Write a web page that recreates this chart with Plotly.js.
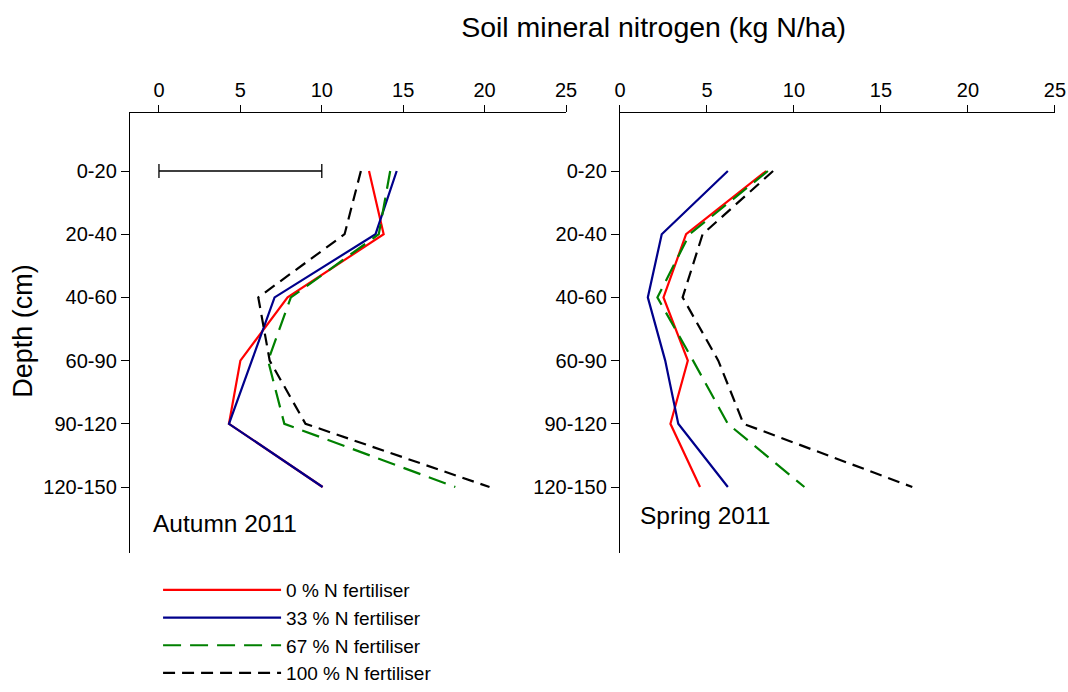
<!DOCTYPE html>
<html>
<head>
<meta charset="utf-8">
<script src="https://cdn.plot.ly/plotly-3.0.1.min.js"></script>
<style>
  html, body { margin: 0; padding: 0; background: #fff; }
  #chart { width: 1068px; height: 692px; }
</style>
</head>
<body>
<div id="chart"></div>
<script>
// depth layers (cm)
const depths = ['0-20', '20-40', '40-60', '60-90', '90-120', '120-150'];

// Autumn 2011, soil mineral N (kg N/ha)
const autumn0 = [12.9, 13.8, 7.9, 5.0, 4.3, 10.05];
const autumn33 = [14.6, 13.3, 7.1, 5.7, 4.3, 10.05];
const autumn67 = [14.2, 13.5, 8.1, 6.7, 7.7, 18.2];
const autumn100 = [12.4, 11.4, 6.1, 6.8, 9.0, 20.3];

// Spring 2011
const spring0 = [8.4, 3.8, 2.5, 3.9, 2.9, 4.6];
const spring33 = [6.2, 2.4, 1.6, 2.6, 3.35, 6.2];
const spring67 = [8.5, 4.0, 2.15, 4.2, 6.2, 10.6];
const spring100 = [8.8, 4.75, 3.6, 5.65, 7.1, 16.8];

// error bar shown on the autumn panel
const errCentre = [5];
const errHalf = [5];
const errDepth = ['0-20'];

const seriesNames = ['0 % N fertiliser', '33 % N fertiliser', '67 % N fertiliser', '100 % N fertiliser'];
const tickVals = [0, 5, 10, 15, 20, 25];

const FONT = 'Liberation Sans, Arial, sans-serif';

const lineStyles = [
    { color: '#ff0000', width: 2.2, dash: 'solid' },
    { color: '#00008b', width: 2.2, dash: 'solid' },
    { color: '#008000', width: 2.2, dash: '18px,9px' },
    { color: '#000000', width: 2.2, dash: '12px,7px' }
];

function makeTraces(sets, xa, ya, showLegend) {
    return sets.map((vals, i) => ({
        x: vals,
        y: depths,
        xaxis: xa,
        yaxis: ya,
        type: 'scatter',
        mode: 'lines',
        name: seriesNames[i],
        showlegend: showLegend,
        line: lineStyles[i]
    }));
}

const traces = [
    ...makeTraces([autumn0, autumn33, autumn67, autumn100], 'x', 'y', true),
    ...makeTraces([spring0, spring33, spring67, spring100], 'x2', 'y2', false),
    {
        x: errCentre,
        y: errDepth,
        xaxis: 'x',
        yaxis: 'y',
        type: 'scatter',
        mode: 'markers',
        showlegend: false,
        marker: { color: 'rgba(0,0,0,0)', size: 2 },
        error_x: { type: 'data', array: errHalf, visible: true, color: '#000', thickness: 1.3, width: 7 }
    }
];

const xCommon = {
    side: 'top',
    tickvals: tickVals,
    showline: true,
    linecolor: '#000',
    linewidth: 1.2,
    ticks: 'outside',
    ticklen: 7,
    tickcolor: '#000',
    showgrid: false,
    zeroline: false,
    automargin: false,
    tickfont: { family: FONT, size: 20, color: '#000' }
};

const yCommon = {
    type: 'category',
    range: [6.044, -0.918],
    showline: true,
    linecolor: '#000',
    linewidth: 1.2,
    ticks: 'outside',
    ticklen: 8,
    tickcolor: '#000',
    showgrid: false,
    zeroline: false,
    automargin: false,
    domain: [0.2009, 0.8367],
    tickfont: { family: FONT, size: 20, color: '#000' }
};

const layout = {
    width: 1068,
    height: 692,
    margin: { l: 0, r: 0, t: 0, b: 0 },
    paper_bgcolor: '#fff',
    plot_bgcolor: '#fff',
    font: { family: FONT, color: '#000' },
    title: {
        text: 'Soil mineral nitrogen (kg N/ha)',
        x: 0.612, xanchor: 'center',
        y: 0.961, yanchor: 'middle',
        font: { family: FONT, size: 28.5, color: '#000' }
    },
    xaxis: { ...xCommon, domain: [0.1217, 0.530], range: [-1.78, 25], anchor: 'y' },
    xaxis2: { ...xCommon, domain: [0.5805, 0.9878], range: [0, 25], anchor: 'y2' },
    yaxis: { ...yCommon, anchor: 'x' },
    yaxis2: { ...yCommon, anchor: 'x2' },
    showlegend: true,
    legend: {
        x: 0.148, xanchor: 'left',
        y: 0, yanchor: 'bottom',
        bgcolor: 'rgba(0,0,0,0)',
        itemwidth: 118,
        tracegroupgap: 0,
        font: { family: FONT, size: 19, color: '#000' }
    },
    annotations: [
        {
            text: 'Depth (cm)', textangle: -90,
            xref: 'paper', yref: 'paper', x: 0.0215, y: 0.522,
            xanchor: 'center', yanchor: 'middle', showarrow: false,
            font: { family: FONT, size: 27, color: '#000' }
        },
        {
            text: 'Autumn 2011',
            xref: 'paper', yref: 'paper', x: 151 / 1068, y: (692 - 523) / 692,
            xanchor: 'left', yanchor: 'middle', showarrow: false,
            font: { family: FONT, size: 24.5, color: '#000' }
        },
        {
            text: 'Spring 2011',
            xref: 'paper', yref: 'paper', x: 638 / 1068, y: (692 - 515) / 692,
            xanchor: 'left', yanchor: 'middle', showarrow: false,
            font: { family: FONT, size: 24.5, color: '#000' }
        }
    ]
};

Plotly.newPlot('chart', traces, layout, { displayModeBar: false, staticPlot: true });
</script>
</body>
</html>
